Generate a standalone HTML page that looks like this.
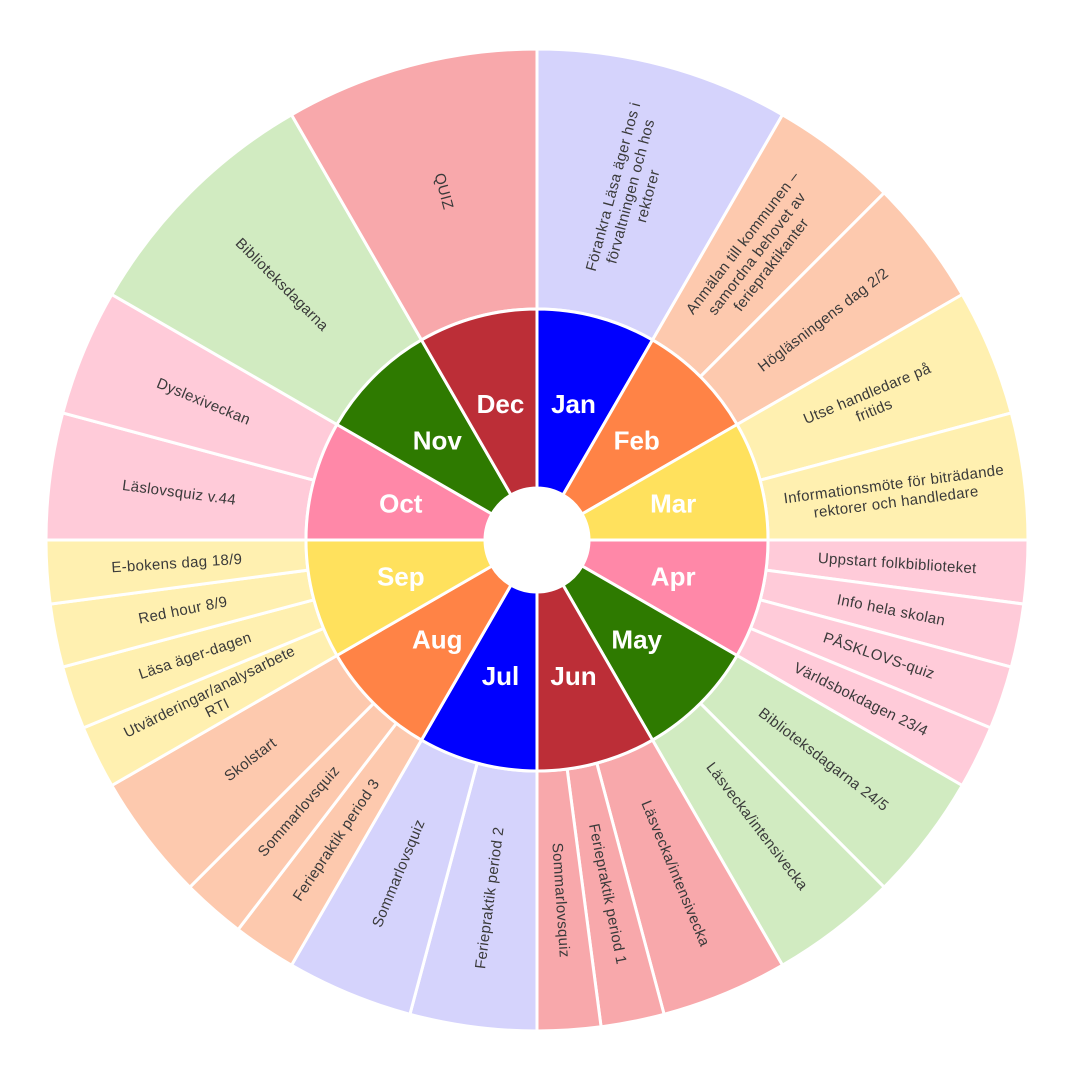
<!DOCTYPE html>
<html><head><meta charset="utf-8"><style>
html,body{margin:0;padding:0;background:#fff}
svg{display:block}
.o{font-family:"Liberation Sans",sans-serif;font-size:15px;letter-spacing:0.3px;fill:#3a3a3a;text-anchor:middle;dominant-baseline:central}
.m{font-family:"Liberation Sans",sans-serif;font-size:26px;font-weight:bold;fill:#fff;text-anchor:middle;dominant-baseline:central}
</style></head><body>
<svg width="1080" height="1080" viewBox="0 0 1080 1080">
<defs>
<path id="m30" d="M537,309 A231,231 0 0 1 652.5,339.95 L563,494.97 A52,52 0 0 0 537,488 Z"/>
<path id="o30" d="M537,49 A491,491 0 0 1 782.5,114.78 L652.5,339.95 A231,231 0 0 0 537,309 Z"/>
<path id="o15" d="M537,49 A491,491 0 0 1 664.08,65.73 L596.79,316.87 A231,231 0 0 0 537,309 Z"/>
<path id="o7" d="M537,49 A491,491 0 0 1 601.09,53.2 L567.15,310.98 A231,231 0 0 0 537,309 Z"/>
</defs>
<g stroke="#fff" stroke-width="3">
<use href="#o30" fill="#d5d3fc" transform="rotate(0 537 540)"/>
<use href="#o15" fill="#fdc9ae" transform="rotate(30 537 540)"/>
<use href="#o15" fill="#fdc9ae" transform="rotate(45 537 540)"/>
<use href="#o15" fill="#fff0b0" transform="rotate(60 537 540)"/>
<use href="#o15" fill="#fff0b0" transform="rotate(75 537 540)"/>
<use href="#o7" fill="#ffcbd9" transform="rotate(90 537 540)"/>
<use href="#o7" fill="#ffcbd9" transform="rotate(97.5 537 540)"/>
<use href="#o7" fill="#ffcbd9" transform="rotate(105 537 540)"/>
<use href="#o7" fill="#ffcbd9" transform="rotate(112.5 537 540)"/>
<use href="#o15" fill="#d1ebc1" transform="rotate(120 537 540)"/>
<use href="#o15" fill="#d1ebc1" transform="rotate(135 537 540)"/>
<use href="#o15" fill="#f8a8ab" transform="rotate(150 537 540)"/>
<use href="#o7" fill="#f8a8ab" transform="rotate(165 537 540)"/>
<use href="#o7" fill="#f8a8ab" transform="rotate(172.5 537 540)"/>
<use href="#o15" fill="#d5d3fc" transform="rotate(180 537 540)"/>
<use href="#o15" fill="#d5d3fc" transform="rotate(195 537 540)"/>
<use href="#o7" fill="#fdc9ae" transform="rotate(210 537 540)"/>
<use href="#o7" fill="#fdc9ae" transform="rotate(217.5 537 540)"/>
<use href="#o15" fill="#fdc9ae" transform="rotate(225 537 540)"/>
<use href="#o7" fill="#fff0b0" transform="rotate(240 537 540)"/>
<use href="#o7" fill="#fff0b0" transform="rotate(247.5 537 540)"/>
<use href="#o7" fill="#fff0b0" transform="rotate(255 537 540)"/>
<use href="#o7" fill="#fff0b0" transform="rotate(262.5 537 540)"/>
<use href="#o15" fill="#ffcbd9" transform="rotate(270 537 540)"/>
<use href="#o15" fill="#ffcbd9" transform="rotate(285 537 540)"/>
<use href="#o30" fill="#d1ebc1" transform="rotate(300 537 540)"/>
<use href="#o30" fill="#f8a8ab" transform="rotate(330 537 540)"/>

<use href="#m30" fill="#0000ff" transform="rotate(0 537 540)"/>
<use href="#m30" fill="#ff8346" transform="rotate(30 537 540)"/>
<use href="#m30" fill="#ffe15d" transform="rotate(60 537 540)"/>
<use href="#m30" fill="#ff88a8" transform="rotate(90 537 540)"/>
<use href="#m30" fill="#2e7a00" transform="rotate(120 537 540)"/>
<use href="#m30" fill="#bc2e37" transform="rotate(150 537 540)"/>
<use href="#m30" fill="#0000ff" transform="rotate(180 537 540)"/>
<use href="#m30" fill="#ff8346" transform="rotate(210 537 540)"/>
<use href="#m30" fill="#ffe15d" transform="rotate(240 537 540)"/>
<use href="#m30" fill="#ff88a8" transform="rotate(270 537 540)"/>
<use href="#m30" fill="#2e7a00" transform="rotate(300 537 540)"/>
<use href="#m30" fill="#bc2e37" transform="rotate(330 537 540)"/>
</g>

<text class="m" x="573.5" y="403.8">Jan</text>
<text class="m" x="636.7" y="440.3">Feb</text>
<text class="m" x="673.2" y="503.5">Mar</text>
<text class="m" x="673.2" y="576.5">Apr</text>
<text class="m" x="636.7" y="639.7">May</text>
<text class="m" x="573.5" y="676.2">Jun</text>
<text class="m" x="500.5" y="676.2">Jul</text>
<text class="m" x="437.3" y="639.7">Aug</text>
<text class="m" x="400.8" y="576.5">Sep</text>
<text class="m" x="400.8" y="503.5">Oct</text>
<text class="m" x="437.3" y="440.3">Nov</text>
<text class="m" x="500.5" y="403.8">Dec</text>

<text class="o" transform="rotate(15 537 540) translate(537 179) rotate(-90)"><tspan x="0" dy="-1.2em">Förankra Läsa äger hos i</tspan><tspan x="0" dy="1.2em">förvaltningen och hos</tspan><tspan x="0" dy="1.2em">rektorer</tspan></text>
<text class="o" transform="rotate(37.5 537 540) translate(537 179) rotate(-90)"><tspan x="0" dy="-1.2em">Anmälan till kommunen –</tspan><tspan x="0" dy="1.2em">samordna behovet av</tspan><tspan x="0" dy="1.2em">feriepraktikanter</tspan></text>
<text class="o" transform="rotate(52.5 537 540) translate(537 179) rotate(-90)">Högläsningens dag 2/2</text>
<text class="o" transform="rotate(67.5 537 540) translate(537 179) rotate(-90)"><tspan x="0" dy="-0.6em">Utse handledare på</tspan><tspan x="0" dy="1.2em">fritids</tspan></text>
<text class="o" transform="rotate(82.5 537 540) translate(537 179) rotate(-90)"><tspan x="0" dy="-0.6em">Informationsmöte för biträdande</tspan><tspan x="0" dy="1.2em">rektorer och handledare</tspan></text>
<text class="o" transform="rotate(93.75 537 540) translate(537 179) rotate(-90)">Uppstart folkbiblioteket</text>
<text class="o" transform="rotate(101.25 537 540) translate(537 179) rotate(-90)">Info hela skolan</text>
<text class="o" transform="rotate(108.75 537 540) translate(537 179) rotate(-90)">PÅSKLOVS-quiz</text>
<text class="o" transform="rotate(116.25 537 540) translate(537 179) rotate(-90)">Världsbokdagen 23/4</text>
<text class="o" transform="rotate(127.5 537 540) translate(537 179) rotate(-90)">Biblioteksdagarna 24/5</text>
<text class="o" transform="rotate(142.5 537 540) translate(537 179) rotate(-90)">Läsvecka/intensivecka</text>
<text class="o" transform="rotate(157.5 537 540) translate(537 179) rotate(-90)">Läsvecka/intensivecka</text>
<text class="o" transform="rotate(168.75 537 540) translate(537 179) rotate(-90)">Feriepraktik period 1</text>
<text class="o" transform="rotate(176.25 537 540) translate(537 179) rotate(-90)">Sommarlovsquiz</text>
<text class="o" transform="rotate(187.5 537 540) translate(537 179) rotate(90)">Feriepraktik period 2</text>
<text class="o" transform="rotate(202.5 537 540) translate(537 179) rotate(90)">Sommarlovsquiz</text>
<text class="o" transform="rotate(213.75 537 540) translate(537 179) rotate(90)">Feriepraktik period 3</text>
<text class="o" transform="rotate(221.25 537 540) translate(537 179) rotate(90)">Sommarlovsquiz</text>
<text class="o" transform="rotate(232.5 537 540) translate(537 179) rotate(90)">Skolstart</text>
<text class="o" transform="rotate(243.75 537 540) translate(537 179) rotate(90)"><tspan x="0" dy="-0.6em">Utvärderingar/analysarbete</tspan><tspan x="0" dy="1.2em">RTI</tspan></text>
<text class="o" transform="rotate(251.25 537 540) translate(537 179) rotate(90)">Läsa äger-dagen</text>
<text class="o" transform="rotate(258.75 537 540) translate(537 179) rotate(90)">Red hour 8/9</text>
<text class="o" transform="rotate(266.25 537 540) translate(537 179) rotate(90)">E-bokens dag 18/9</text>
<text class="o" transform="rotate(277.5 537 540) translate(537 179) rotate(90)">Läslovsquiz v.44</text>
<text class="o" transform="rotate(292.5 537 540) translate(537 179) rotate(90)">Dyslexiveckan</text>
<text class="o" transform="rotate(315 537 540) translate(537 179) rotate(90)">Biblioteksdagarna</text>
<text class="o" transform="rotate(345 537 540) translate(537 179) rotate(90)">QUIZ</text>
</svg>
</body></html>
